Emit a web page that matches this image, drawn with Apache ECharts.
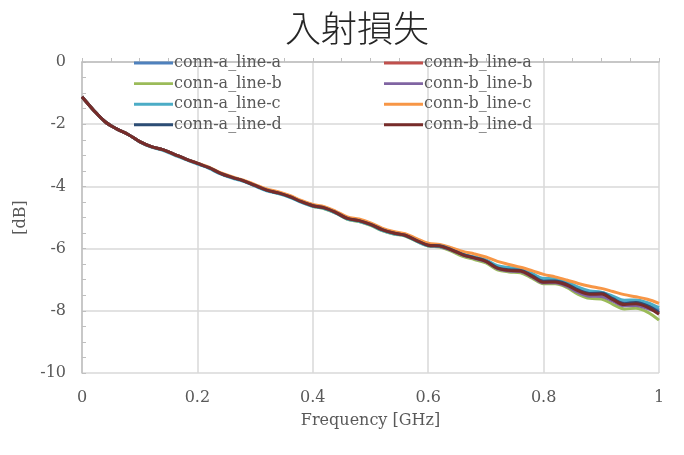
<!DOCTYPE html>
<html>
<head>
<meta charset="utf-8">
<script src="https://cdn.jsdelivr.net/npm/echarts@6/dist/echarts.min.js"></script>
<style>html,body{margin:0;padding:0;background:#fff}#c{width:684px;height:455px}</style>
</head>
<body>
<div id="c"></div>
<script>
var freq = [0,0.02,0.04,0.06,0.08,0.10,0.12,0.14,0.16,0.18,0.20,0.22,0.24,0.26,0.28,0.30,0.32,0.34,0.36,0.38,0.40,0.42,0.44,0.46,0.48,0.50,0.52,0.54,0.56,0.58,0.60,0.62,0.64,0.66,0.68,0.70,0.72,0.74,0.76,0.78,0.80,0.82,0.84,0.86,0.88,0.90,0.92,0.94,0.96,0.98,1.00];

var connA_lineA = [-1.12,-1.55,-1.92,-2.15,-2.33,-2.56,-2.72,-2.82,-2.97,-3.12,-3.26,-3.40,-3.58,-3.71,-3.82,-3.97,-4.12,-4.21,-4.33,-4.49,-4.62,-4.69,-4.84,-5.03,-5.10,-5.22,-5.39,-5.50,-5.57,-5.74,-5.89,-5.92,-6.03,-6.19,-6.28,-6.38,-6.60,-6.66,-6.68,-6.85,-7.02,-7.01,-7.11,-7.30,-7.41,-7.41,-7.57,-7.72,-7.70,-7.80,-7.98];
var connB_lineA = [-1.12,-1.55,-1.92,-2.15,-2.33,-2.56,-2.72,-2.82,-2.97,-3.12,-3.26,-3.40,-3.58,-3.71,-3.82,-3.97,-4.12,-4.21,-4.33,-4.49,-4.62,-4.69,-4.84,-5.03,-5.10,-5.22,-5.39,-5.50,-5.57,-5.74,-5.89,-5.92,-6.04,-6.20,-6.30,-6.41,-6.63,-6.70,-6.72,-6.89,-7.07,-7.05,-7.16,-7.35,-7.45,-7.44,-7.62,-7.78,-7.74,-7.86,-8.08];
var connA_lineB = [-1.12,-1.55,-1.92,-2.15,-2.33,-2.56,-2.72,-2.82,-2.97,-3.12,-3.26,-3.40,-3.58,-3.71,-3.82,-3.97,-4.12,-4.22,-4.34,-4.50,-4.64,-4.72,-4.86,-5.06,-5.13,-5.25,-5.42,-5.53,-5.60,-5.77,-5.92,-5.95,-6.08,-6.25,-6.35,-6.46,-6.68,-6.75,-6.78,-6.95,-7.13,-7.13,-7.25,-7.47,-7.60,-7.62,-7.79,-7.94,-7.92,-8.04,-8.30];
var connB_lineB = [-1.12,-1.55,-1.92,-2.15,-2.33,-2.56,-2.72,-2.82,-2.97,-3.12,-3.26,-3.40,-3.58,-3.71,-3.82,-3.97,-4.12,-4.21,-4.33,-4.49,-4.62,-4.69,-4.84,-5.03,-5.10,-5.22,-5.39,-5.50,-5.57,-5.74,-5.90,-5.93,-6.05,-6.21,-6.31,-6.42,-6.64,-6.72,-6.74,-6.91,-7.10,-7.10,-7.21,-7.41,-7.53,-7.54,-7.69,-7.84,-7.83,-7.93,-8.05];
var connA_lineC = [-1.12,-1.55,-1.92,-2.15,-2.33,-2.57,-2.74,-2.84,-2.99,-3.14,-3.28,-3.42,-3.60,-3.73,-3.84,-3.99,-4.14,-4.23,-4.35,-4.51,-4.64,-4.71,-4.86,-5.05,-5.12,-5.24,-5.41,-5.52,-5.59,-5.76,-5.91,-5.93,-6.03,-6.18,-6.27,-6.36,-6.55,-6.61,-6.64,-6.80,-6.96,-6.97,-7.06,-7.24,-7.36,-7.40,-7.53,-7.66,-7.65,-7.74,-7.90];
var connB_lineC = [-1.12,-1.55,-1.92,-2.15,-2.33,-2.56,-2.72,-2.82,-2.97,-3.12,-3.25,-3.38,-3.56,-3.69,-3.80,-3.94,-4.08,-4.17,-4.29,-4.45,-4.58,-4.65,-4.80,-4.98,-5.05,-5.17,-5.34,-5.45,-5.52,-5.68,-5.83,-5.87,-5.97,-6.09,-6.17,-6.27,-6.41,-6.51,-6.60,-6.71,-6.83,-6.91,-7.01,-7.12,-7.21,-7.28,-7.38,-7.48,-7.55,-7.63,-7.76];
var connA_lineD = [-1.12,-1.55,-1.92,-2.15,-2.33,-2.56,-2.72,-2.82,-2.97,-3.12,-3.26,-3.40,-3.58,-3.71,-3.82,-3.97,-4.12,-4.21,-4.33,-4.49,-4.62,-4.69,-4.84,-5.03,-5.10,-5.22,-5.39,-5.50,-5.57,-5.74,-5.89,-5.91,-6.03,-6.19,-6.29,-6.40,-6.62,-6.68,-6.70,-6.87,-7.05,-7.04,-7.14,-7.33,-7.44,-7.43,-7.61,-7.77,-7.73,-7.84,-8.05];
var connB_lineD = [-1.12,-1.55,-1.92,-2.15,-2.33,-2.56,-2.72,-2.82,-2.97,-3.12,-3.26,-3.40,-3.58,-3.71,-3.82,-3.97,-4.12,-4.21,-4.33,-4.49,-4.62,-4.69,-4.84,-5.03,-5.10,-5.22,-5.39,-5.50,-5.57,-5.74,-5.89,-5.92,-6.04,-6.20,-6.30,-6.41,-6.63,-6.70,-6.72,-6.89,-7.08,-7.07,-7.17,-7.36,-7.47,-7.46,-7.64,-7.80,-7.77,-7.88,-8.11];

var seriesNames = ['conn-a_line-a','conn-b_line-a','conn-a_line-b','conn-b_line-b','conn-a_line-c','conn-b_line-c','conn-a_line-d','conn-b_line-d'];
var seriesValues = [connA_lineA, connB_lineA, connA_lineB, connB_lineB, connA_lineC, connB_lineC, connA_lineD, connB_lineD];
var seriesColors = ['#4F81BD','#C0504D','#9BBB59','#8064A2','#4BACC6','#F79646','#2C4D75','#772C2A'];
var xTicks = ['0','0.2','0.4','0.6','0.8','1'];
var yTicks = ['-10','-8','-6','-4','-2','0'];

var serif = '"DejaVu Serif","Liberation Serif",serif';
var chart = echarts.init(document.getElementById('c'), null, {renderer:'canvas'});

var series = seriesNames.map(function(n, k){
  return {
    name: n, type: 'line', showSymbol: false, symbol: 'none', smooth: 0.35,
    lineStyle: {width: 3, color: seriesColors[k]}, itemStyle: {color: seriesColors[k]},
    data: freq.map(function(f, i){ return [f, seriesValues[k][i]]; })
  };
});

function legendCfg(left, names){
  return {
    orient: 'vertical', left: left, top: 50, itemWidth: 39, itemHeight: 14, itemGap: 4.6,
    icon: 'path://M0,6 L40,6 L40,9 L0,9 Z',
    textStyle: {fontFamily: serif, fontSize: 16, color: '#595959', padding: [0,0,0,-4]},
    data: names
  };
}

chart.setOption({
  animation: false,
  backgroundColor: '#fff',
  title: {text: '入射損失', left: 280, top: 5,
    textStyle: {fontFamily: '"Noto Sans CJK JP","Noto Sans",sans-serif', fontSize: 36, fontWeight: 300, color: '#262626'}},
  legend: [
    legendCfg(129, [seriesNames[0], seriesNames[2], seriesNames[4], seriesNames[6]]),
    legendCfg(379, [seriesNames[1], seriesNames[3], seriesNames[5], seriesNames[7]])
  ],
  grid: {left: 82, right: 25, top: 62, bottom: 82, containLabel: false},
  xAxis: {
    type: 'value', min: 0, max: 1, interval: 0.2,
    name: 'Frequency [GHz]', nameLocation: 'middle', nameGap: 40,
    nameTextStyle: {fontFamily: serif, fontSize: 16, color: '#595959'},
    axisLine: {show: true, lineStyle: {color: '#BFBFBF', width: 1.5}},
    axisTick: {show: true, inside: true, length: 4, lineStyle: {color: '#BFBFBF'}},
    minorTick: {show: true, splitNumber: 4, length: 4, lineStyle: {color: '#BFBFBF'}},
    splitLine: {show: true, lineStyle: {color: '#D9D9D9', width: 1.5}},
    axisLabel: {fontFamily: serif, fontSize: 16, color: '#595959', margin: 17,
      formatter: function(v){ return xTicks[Math.round(v / 0.2)]; }}
  },
  yAxis: {
    type: 'value', min: -10, max: 0, interval: 2,
    name: '[dB]', nameLocation: 'middle', nameGap: 48, nameRotate: 90,
    nameTextStyle: {fontFamily: serif, fontSize: 16, color: '#595959'},
    axisLine: {show: true, lineStyle: {color: '#BFBFBF', width: 1.5}},
    axisTick: {show: true, inside: true, length: 4, lineStyle: {color: '#BFBFBF'}},
    minorTick: {show: true, splitNumber: 4, length: 4, lineStyle: {color: '#BFBFBF'}},
    splitLine: {show: true, lineStyle: {color: '#D9D9D9', width: 1.5}},
    axisLabel: {fontFamily: serif, fontSize: 16, color: '#595959', margin: 16,
      formatter: function(v){ return yTicks[Math.round((v + 10) / 2)]; }}
  },
  series: series
});
</script>
</body>
</html>
